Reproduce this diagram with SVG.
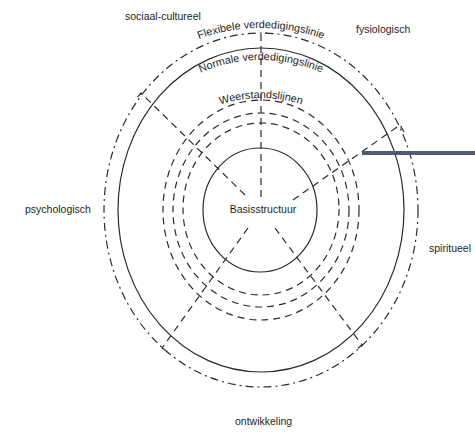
<svg xmlns="http://www.w3.org/2000/svg" width="475" height="438" viewBox="0 0 475 438">
<defs>
<style>
.solid{fill:none;stroke:#2a2a2a;stroke-width:1.2}
.dash{fill:none;stroke:#2a2a2a;stroke-width:1.2;stroke-dasharray:7 5}
.dashdot{fill:none;stroke:#2a2a2a;stroke-width:1.2;stroke-dasharray:8 4 2 4}
.lbl{font-family:"Liberation Sans",Arial,sans-serif;font-size:10.5px;fill:#1e1e1e}
.arc{font-family:"Liberation Sans",Arial,sans-serif;font-size:10.8px;fill:#1e1e1e}
</style>
<path id="pFlex" d="M80,209 A181,181 0 0 1 442,209"/>
<path id="pNorm" d="M111,210 A150,150 0 0 1 411,210"/>
<path id="pWeer" d="M131,228 A130,130 0 0 1 391,228"/>
</defs>
<rect width="475" height="438" fill="#ffffff"/>

<g id="flexibele-verdedigingslinie">
<ellipse class="dashdot" cx="261" cy="210" rx="157" ry="177"/>
<text class="arc"><textPath href="#pFlex" startOffset="50%" text-anchor="middle">Flexibele verdedigingslinie</textPath></text>
</g>
<g id="normale-verdedigingslinie">
<ellipse class="solid" cx="261" cy="210" rx="143" ry="162"/>
<text class="arc"><textPath href="#pNorm" startOffset="50%" text-anchor="middle">Normale verdedigingslinie</textPath></text>
</g>
<g id="weerstandslijnen">
<ellipse class="dash" cx="261" cy="210" rx="98" ry="110"/>
<ellipse class="dash" cx="261" cy="210" rx="88" ry="97"/>
<ellipse class="dash" cx="261" cy="209" rx="78" ry="86"/>
<text class="arc"><textPath href="#pWeer" startOffset="50%" text-anchor="middle">Weerstandslijnen</textPath></text>
</g>
<g id="basisstructuur">
<ellipse class="solid" cx="260" cy="210" rx="57" ry="62"/>
<text class="lbl" x="263" y="213" text-anchor="middle" font-size="11">Basisstructuur</text>
</g>

<g id="connectors">
<path class="dash" d="M261,197 L261,33 L267,33"/>
<path class="dash" d="M245,195 L141,93 L135,100"/>
<path class="dash" d="M293,200 L400,125 L404,132"/>
<path class="dash" d="M248,228 L162,348 L168,352"/>
<path class="dash" d="M275,228 L362,345 L356,350"/>
</g>

<g id="labels">
<text class="lbl" x="125" y="20">sociaal-cultureel</text>
<text class="lbl" x="356" y="33" font-size="11">fysiologisch</text>
<text class="lbl" x="25" y="213" font-size="11">psychologisch</text>
<text class="lbl" x="429" y="252" font-size="11">spiritueel</text>
<text class="lbl" x="235" y="425" font-size="11">ontwikkeling</text>
</g>

<g id="pointer-bar">
<rect x="362" y="151" width="113" height="4" fill="#4f5b76"/>
</g>
</svg>
